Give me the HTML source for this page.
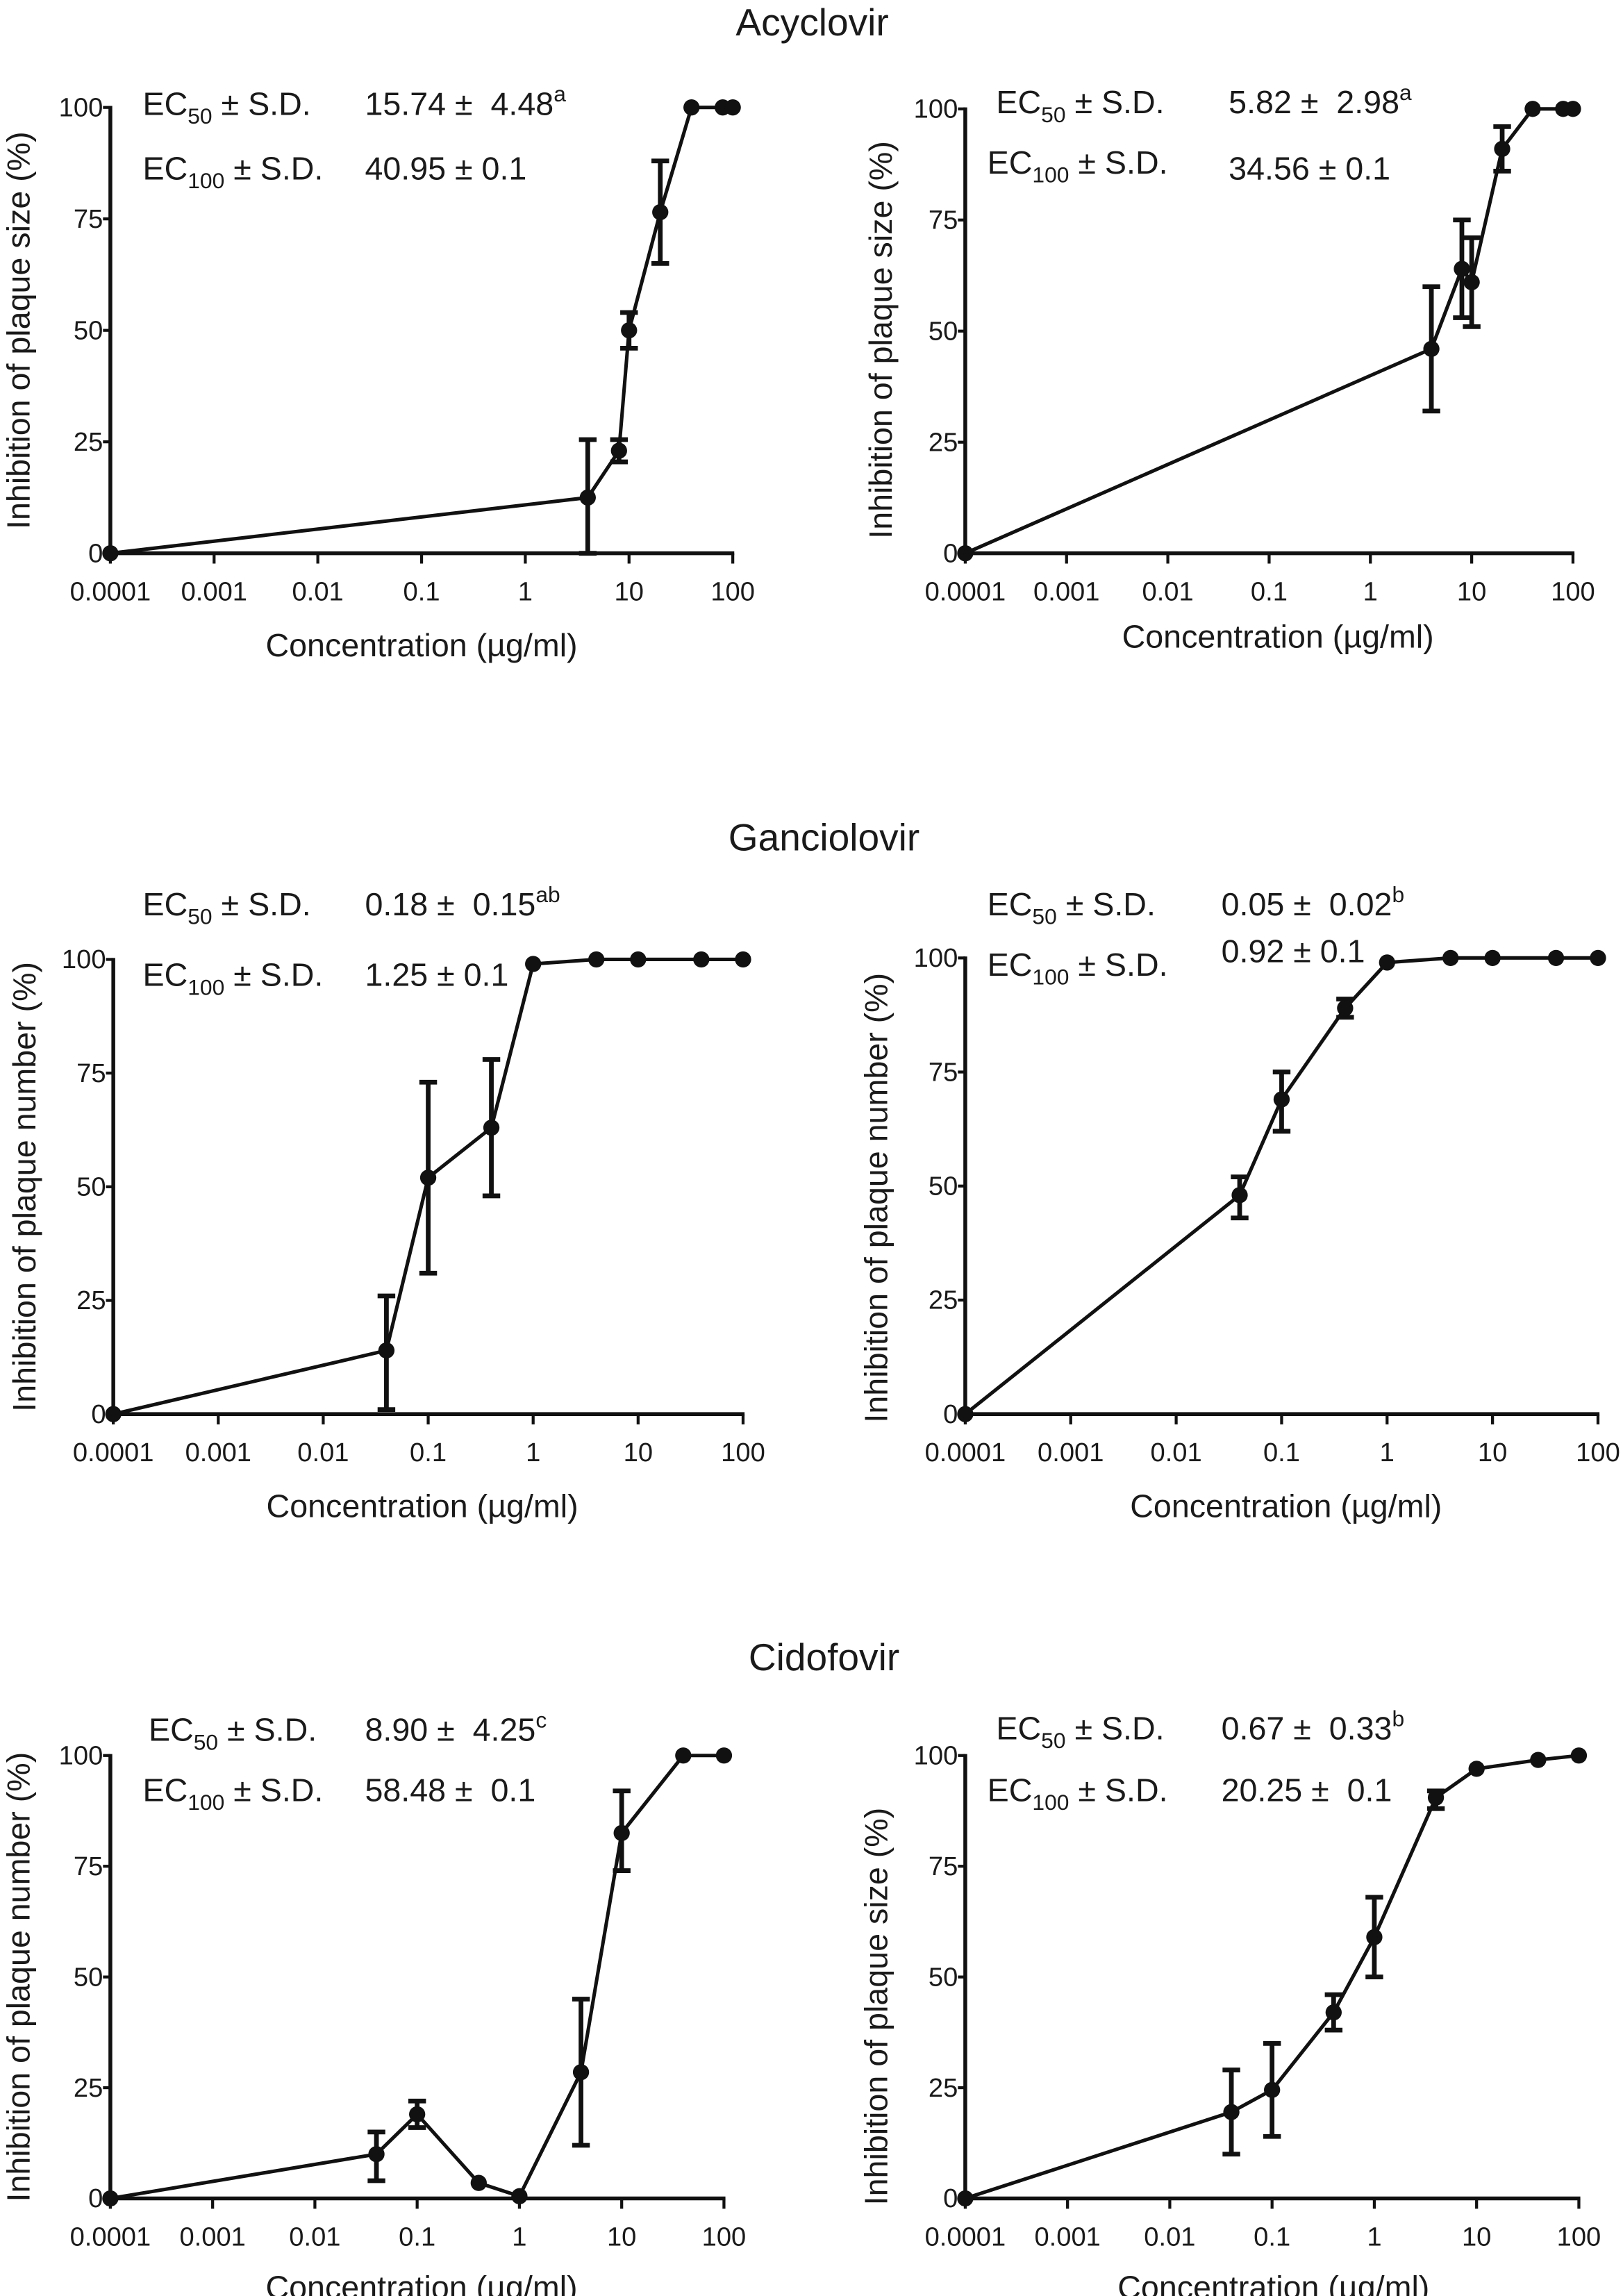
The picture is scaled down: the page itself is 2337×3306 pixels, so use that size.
<!DOCTYPE html>
<html><head><meta charset="utf-8"><style>
html,body{margin:0;padding:0;background:#fff}
svg{display:block}
text{font-family:"Liberation Sans",sans-serif;fill:#1a1a1a;white-space:pre}
</style></head><body>
<svg id="fig" width="2337" height="3306" viewBox="0 0 1103 1560.3" preserveAspectRatio="none" xmlns="http://www.w3.org/2000/svg">
<text x="552" y="24" font-size="26" text-anchor="middle">Acyclovir</text>
<text x="560" y="578" font-size="26" text-anchor="middle">Ganciolovir</text>
<text x="560" y="1135" font-size="26" text-anchor="middle">Cidofovir</text>
</svg>
<script>
// Panel data (concentration µg/ml, inhibition %, error low, error high)
const xTickLabels = ["0.0001","0.001","0.01","0.1","1","10","100"];
const yTickLabels = [0,25,50,75,100];

const p1X = [0.0001,4,8,10,20,40,80,100];
const p1Y = [0,12.5,23,50,76.5,100,100,100];
const p1Lo = [null,0,20.5,46,65,null,null,null];
const p1Hi = [null,25.5,25.5,54,88,null,null,null];

const p2X = [0.0001,4,8,10,20,40,80,100];
const p2Y = [0,46,64,61,91,100,100,100];
const p2Lo = [null,32,53,51,86,null,null,null];
const p2Hi = [null,60,75,71,96,null,null,null];

const p3X = [0.0001,0.04,0.1,0.4,1,4,10,40,100];
const p3Y = [0,14,52,63,99,100,100,100,100];
const p3Lo = [null,1,31,48,null,null,null,null,null];
const p3Hi = [null,26,73,78,null,null,null,null,null];

const p4X = [0.0001,0.04,0.1,0.4,1,4,10,40,100];
const p4Y = [0,48,69,89,99,100,100,100,100];
const p4Lo = [null,43,62,87,null,null,null,null,null];
const p4Hi = [null,52,75,91,null,null,null,null,null];

const p5X = [0.0001,0.04,0.1,0.4,1,4,10,40,100];
const p5Y = [0,10,19,3.5,0.5,28.5,82.5,100,100];
const p5Lo = [null,4,16,null,null,12,74,null,null];
const p5Hi = [null,15,22,null,null,45,92,null,null];

const p6X = [0.0001,0.04,0.1,0.4,1,4,10,40,100];
const p6Y = [0,19.5,24.5,42,59,90.5,97,99,100];
const p6Lo = [null,10,14,38,50,88,null,null,null];
const p6Hi = [null,29,35,46,68,92,null,null,null];

const NS="http://www.w3.org/2000/svg";
const svg=document.getElementById('fig');
function mk(tag,attrs,parent){const e=document.createElementNS(NS,tag);for(const k in attrs)e.setAttribute(k,attrs[k]);(parent||svg).appendChild(e);return e;}

function panel(id,g,X,Y,Lo,Hi,ann){
  const grp=mk('g',{});
  
  
  const sx=v=>g.x0+(Math.log10(v)+4)/6*(g.x1-g.x0);
  const sy=v=>g.y0-(v/100)*(g.y0-g.y100);
  const ya=mk('line',{x1:g.x0,y1:g.y100-1,x2:g.x0,y2:g.y0+1,stroke:'#111','stroke-width':2.6},grp);
  
  
  const xa=mk('line',{x1:g.x0-1,y1:g.y0,x2:g.x1+1,y2:g.y0,stroke:'#111','stroke-width':2.6},grp);
  
  
  yTickLabels.forEach(v=>{
    const y=sy(v);
    mk('line',{x1:g.x0-5,y1:y,x2:g.x0,y2:y,stroke:'#111','stroke-width':2},grp);
    const t=mk('text',{x:g.x0-5,y:y+6,'font-size':18,'text-anchor':'end'},grp);
    t.textContent=v;
    
    
  });
  xTickLabels.forEach(s=>{
    const x=sx(parseFloat(s));
    mk('line',{x1:x,y1:g.y0,x2:x,y2:g.y0+7,stroke:'#111','stroke-width':2},grp);
    const t=mk('text',{x:x,y:g.y0+32,'font-size':18,'text-anchor':'middle'},grp);
    t.textContent=s;
    
    
  });
  const xl=mk('text',{x:(g.x0+g.x1)/2-g.xlOff,y:g.xlY,'font-size':22,'text-anchor':'middle'},grp);
  xl.textContent='Concentration (µg/ml)';
  
  
  const ylc=(g.y0+g.y100)/2+g.ylOff;
  const yl=mk('text',{x:0,y:0,'font-size':22,'text-anchor':'middle',transform:`translate(${g.ylX},${ylc}) rotate(-90)`},grp);
  yl.textContent=g.ylab;
  
  
  const pts=X.map((v,i)=>sx(v)+','+sy(Y[i])).join(' ');
  const pl=mk('polyline',{points:pts,fill:'none',stroke:'#111','stroke-width':2.4},grp);
  
  
  X.forEach((v,i)=>{
    if(Lo[i]===null)return;
    const x=sx(v);
    const eg=mk('g',{stroke:'#111','stroke-width':3.2},grp);
    
    
    mk('line',{x1:x,y1:sy(Lo[i]),x2:x,y2:sy(Hi[i])},eg);
    mk('line',{x1:x-6,y1:sy(Lo[i]),x2:x+6,y2:sy(Lo[i])},eg);
    mk('line',{x1:x-6,y1:sy(Hi[i]),x2:x+6,y2:sy(Hi[i])},eg);
  });
  X.forEach((v,i)=>{
    const c=mk('circle',{cx:sx(v),cy:sy(Y[i]),r:5.5,fill:'#111'},grp);
    
    
  });
  ann.forEach(a=>{
    const t=mk('text',{x:a.x,y:a.y,'font-size':22},grp);
    t.innerHTML=a.h;
    
    
  });
}
const sub=n=>`EC<tspan font-size="15" dy="6">${n}</tspan><tspan dy="-6"> ± S.D.</tspan>`;
const sup=(v,s)=>`${v}<tspan font-size="15" dy="-9">${s}</tspan>`;

panel('panel-acyclovir-size',{x0:75,x1:498,y0:376,y100:73,xlY:446,xlOff:0,ylX:20,ylOff:0,ylab:'Inhibition of plaque size (%)'},p1X,p1Y,p1Lo,p1Hi,[
 {x:97,y:78,h:sub('50'),n:'ec50-label'},{x:248,y:78,h:sup('15.74 ±  4.48','a'),n:'ec50-value'},
 {x:97,y:122,h:sub('100'),n:'ec100-label'},{x:248,y:122,h:'40.95 ± 0.1',n:'ec100-value'}]);
panel('panel-acyclovir-number',{x0:656,x1:1069,y0:376,y100:74,xlY:440,xlOff:-6,ylX:606,ylOff:6,ylab:'Inhibition of plaque size (%)'},p2X,p2Y,p2Lo,p2Hi,[
 {x:677,y:77,h:sub('50'),n:'ec50-label'},{x:835,y:77,h:sup('5.82 ±  2.98','a'),n:'ec50-value'},
 {x:671,y:118,h:sub('100'),n:'ec100-label'},{x:835,y:122,h:'34.56 ± 0.1',n:'ec100-value'}]);
panel('panel-ganciclovir-number',{x0:77,x1:505,y0:961,y100:652,xlY:1031,xlOff:4,ylX:24,ylOff:0,ylab:'Inhibition of plaque number (%)'},p3X,p3Y,p3Lo,p3Hi,[
 {x:97,y:622,h:sub('50'),n:'ec50-label'},{x:248,y:622,h:sup('0.18 ±  0.15','ab'),n:'ec50-value'},
 {x:97,y:670,h:sub('100'),n:'ec100-label'},{x:248,y:670,h:'1.25 ± 0.1',n:'ec100-value'}]);
panel('panel-ganciclovir-size',{x0:656,x1:1086,y0:961,y100:651,xlY:1031,xlOff:-3,ylX:603,ylOff:8,ylab:'Inhibition of plaque number (%)'},p4X,p4Y,p4Lo,p4Hi,[
 {x:671,y:622,h:sub('50'),n:'ec50-label'},{x:830,y:622,h:sup('0.05 ±  0.02','b'),n:'ec50-value'},
 {x:671,y:663,h:sub('100'),n:'ec100-label'},{x:830,y:654,h:'0.92 ± 0.1',n:'ec100-value'}]);
panel('panel-cidofovir-number',{x0:75,x1:492,y0:1494,y100:1193,xlY:1562,xlOff:-3,ylX:20,ylOff:0,ylab:'Inhibition of plaque number (%)'},p5X,p5Y,p5Lo,p5Hi,[
 {x:101,y:1183,h:sub('50'),n:'ec50-label'},{x:248,y:1183,h:sup('8.90 ±  4.25','c'),n:'ec50-value'},
 {x:97,y:1224,h:sub('100'),n:'ec100-label'},{x:248,y:1224,h:'58.48 ±  0.1',n:'ec100-value'}]);
panel('panel-cidofovir-size',{x0:656,x1:1073,y0:1494,y100:1193,xlY:1562,xlOff:-1,ylX:603,ylOff:20,ylab:'Inhibition of plaque size (%)'},p6X,p6Y,p6Lo,p6Hi,[
 {x:677,y:1182,h:sub('50'),n:'ec50-label'},{x:830,y:1182,h:sup('0.67 ±  0.33','b'),n:'ec50-value'},
 {x:671,y:1224,h:sub('100'),n:'ec100-label'},{x:830,y:1224,h:'20.25 ±  0.1',n:'ec100-value'}]);
</script>
</body></html>
